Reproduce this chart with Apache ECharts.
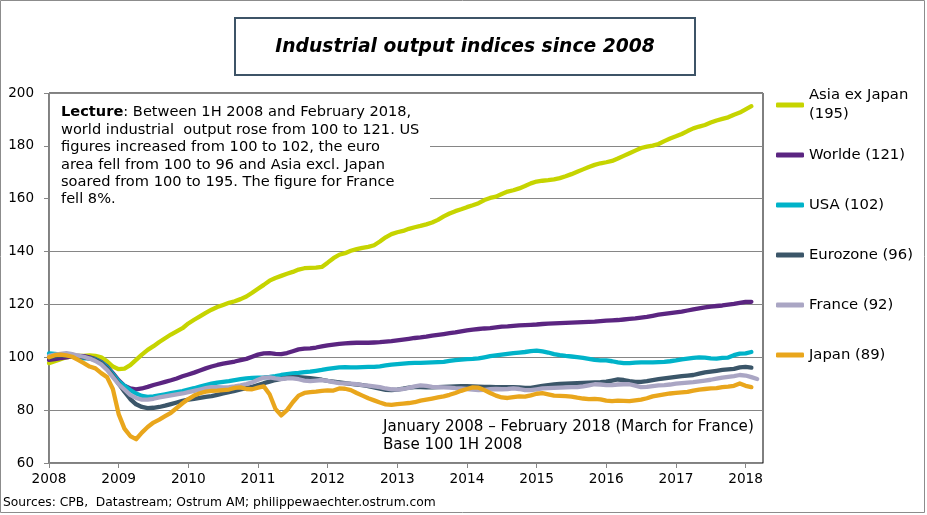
<!DOCTYPE html>
<html><head><meta charset="utf-8">
<script src="https://cdn.jsdelivr.net/npm/echarts@6/dist/echarts.min.js"></script>
<style>html,body{margin:0;padding:0;background:#fff}#c{width:927px;height:515px}</style>
</head><body><div id="c"></div>
<script>
// ---- data (monthly, Jan 2008 onwards) ----
const startYear = 2008;
const yearTicks = [2008,2009,2010,2011,2012,2013,2014,2015,2016,2017,2018];
const seriesNames = ['Asia ex Japan\n(195)','Worlde (121)','USA (102)','Eurozone (96)','France (92)','Japan (89)'];
const asia = [97.8,98.5,99.3,100,100.3,100.5,100.5,100.7,100.5,100,
  98.5,96.5,95.5,95.7,97,99,101,102.8,104.2,105.8,
  107.2,108.6,109.8,111,112.8,114.2,115.5,116.8,118,119,
  119.8,120.6,121.2,122,123,124.4,125.9,127.4,129,130,
  130.8,131.6,132.3,133.2,133.7,133.8,133.9,134.2,135.8,137.5,
  138.8,139.4,140.3,140.9,141.4,141.8,142.4,143.8,145.4,146.6,
  147.3,147.8,148.6,149.2,149.7,150.3,151,152,153.3,154.4,
  155.3,156,156.8,157.5,158.3,159.5,160.3,160.8,161.8,162.7,
  163.2,163.9,164.8,165.8,166.5,166.8,167,167.3,167.8,168.5,
  169.3,170.2,171.1,172,172.8,173.4,173.8,174.3,175.2,176.2,
  177.2,178.2,179.2,179.7,180.1,180.7,181.8,182.8,183.6,184.5,
  185.6,186.6,187.3,187.9,188.8,189.6,190.2,190.8,191.8,192.6,
  193.8,195];
const world = [99,99.3,99.7,100,100.3,100.5,100.4,100,99.3,98.2,
  96.5,94,91.3,89.2,88.2,87.9,88.2,88.8,89.5,90.1,
  90.7,91.3,92,92.8,93.5,94.2,95,95.8,96.5,97.1,
  97.6,98,98.4,98.9,99.4,100.2,101,101.5,101.6,101.3,
  101.2,101.6,102.3,103,103.3,103.4,103.7,104.1,104.5,104.8,
  105.1,105.3,105.4,105.5,105.5,105.5,105.6,105.7,105.9,106.1,
  106.4,106.7,107,107.3,107.5,107.8,108.2,108.5,108.8,109.1,
  109.4,109.8,110.2,110.5,110.7,110.9,111,111.3,111.6,111.7,
  111.9,112.1,112.2,112.3,112.4,112.6,112.7,112.8,112.9,113,
  113.1,113.2,113.3,113.4,113.5,113.7,113.9,114,114.1,114.3,
  114.5,114.7,115,115.3,115.7,116.1,116.4,116.7,117,117.3,
  117.7,118.1,118.5,118.9,119.2,119.4,119.6,119.9,120.2,120.6,
  121,121];
const usa = [101.5,101.3,101,100.7,100.4,100,99.6,99.6,99.2,98,
  96.3,93.6,91,89.2,87.6,86.3,85.4,85,85.2,85.6,
  86,86.4,86.8,87.2,87.8,88.3,88.9,89.5,90,90.4,
  90.7,91,91.4,91.7,92,92.2,92.3,92.4,92.6,92.9,
  93.3,93.6,93.9,94.1,94.4,94.6,94.9,95.2,95.6,95.9,
  96.2,96.3,96.2,96.2,96.3,96.4,96.4,96.6,96.9,97.2,
  97.4,97.6,97.8,97.9,97.9,98,98.1,98.2,98.3,98.6,
  98.9,99.1,99.3,99.4,99.6,100,100.4,100.7,101,101.3,
  101.6,101.8,102,102.3,102.5,102.2,101.8,101.2,100.8,100.5,
  100.3,100.1,99.8,99.4,99,98.8,98.8,98.5,98.1,97.8,
  97.8,98,98.1,98.1,98.1,98.2,98.3,98.5,98.8,99.2,
  99.5,99.8,100,99.9,99.6,99.5,99.8,99.9,100.8,101.4,
  101.5,102];
const eurozone = [100,100.3,100.6,100.8,100.6,100.4,100,99.6,99,97.8,
  95.8,93,90,87,84.2,82.2,81.2,80.8,80.9,81.2,
  81.7,82.3,82.9,83.5,84,84.3,84.6,85,85.3,85.8,
  86.3,86.8,87.3,87.8,88.3,88.8,89.5,90.2,90.8,91.4,
  91.8,92.2,92.5,92.5,92.3,92.1,91.8,91.5,91.1,90.8,
  90.5,90.2,89.9,89.7,89.5,89.1,88.6,88.1,87.7,87.6,
  87.8,88.1,88.5,88.7,88.7,88.6,88.6,88.7,88.8,88.9,
  89,89.1,89.1,89,88.9,88.8,88.8,88.7,88.7,88.7,
  88.7,88.6,88.4,88.4,88.8,89.2,89.5,89.7,89.9,90,
  90.1,90.2,90.3,90.4,90.5,90.6,90.8,91.2,91.6,91.4,
  91,90.7,90.7,91,91.4,91.7,92,92.3,92.6,92.9,
  93.1,93.3,93.8,94.3,94.6,94.9,95.2,95.4,95.6,96.2,
  96.4,96.1];
const france = [100.5,101,101.3,101.6,101.2,100.6,100.2,99.5,98.6,97.3,
  95.2,92.5,89.8,87.8,85.8,84.6,84,84,84.3,84.8,
  85.2,85.6,86,86.3,86.8,87.3,87.8,88.3,88.7,88.7,
  88.6,88.7,89,89.4,89.9,90.5,91.5,92.3,92.4,92,
  91.7,92,92,91.7,91.2,91,91.2,91.4,91.1,90.6,
  90.2,90.1,90,89.8,89.5,89.3,89,88.7,88.2,87.9,
  87.8,88,88.4,89,89.4,89.2,88.8,88.7,88.6,88.5,
  88.3,88.2,88,87.8,87.6,87.7,87.9,88,87.9,88,
  88.2,88,87.6,87.6,87.9,88.2,88.3,88.4,88.5,88.6,
  88.7,88.7,89,89.4,89.8,89.7,89.5,89.5,89.7,89.8,
  89.8,89.3,88.7,88.8,89.1,89.4,89.5,89.7,90,90.2,
  90.4,90.6,90.9,91.2,91.5,91.9,92.3,92.6,92.9,93.3,
  93.1,92.5,91.8];
const japan = [100,100.8,101,100.7,100.2,99,97.8,96.5,95.8,94,
  92.5,88,78.5,73,70.2,69,71.5,73.6,75.3,76.4,
  77.7,79,80.8,82.6,84.2,85.5,86.4,87,87.3,87.4,
  87.6,87.8,88.4,88.6,88,87.9,88.5,89,86,80.5,
  78,80,83,85.5,86.5,86.8,87,87.3,87.5,87.4,
  88.2,88.1,87.6,86.5,85.5,84.5,83.7,82.9,82.2,82,
  82.3,82.5,82.7,83,83.6,84,84.4,84.8,85.2,85.8,
  86.5,87.3,88,88.6,88.5,87.6,86.5,85.5,84.8,84.6,
  84.9,85.2,85.1,85.6,86.2,86.4,86,85.5,85.4,85.3,
  85.1,84.7,84.4,84.2,84.3,84.1,83.6,83.4,83.6,83.5,
  83.4,83.7,84,84.5,85.2,85.6,86,86.3,86.5,86.7,
  86.9,87.4,87.8,88,88.2,88.3,88.7,88.9,89.2,90.1,
  89.2,88.7];
const colors = ['#c6d400','#5b2581','#00b3c9','#3b5669','#aaa6c4','#e9a61c'];

const titleText = 'Industrial output indices since 2008';
const lectureLines = ['world industrial  output rose from 100 to 121. US','figures increased from 100 to 102, the euro','area fell from 100 to 96 and Asia excl. Japan','soared from 100 to 195. The figure for France','fell 8%.'];
const noteLines = ['January 2008 \u2013 February 2018 (March for France)', 'Base 100 1H 2008'];
const sourceText = 'Sources: CPB,  Datastream; Ostrum AM; philippewaechter.ostrum.com';

const allData = [asia, world, usa, eurozone, france, japan];
const toXY = arr => arr.map((v, i) => [startYear + i / 12, v]);
const FAM = '"DejaVu Sans", Verdana, sans-serif';

// font size that makes a text span a given pixel width
const mctx = document.createElement('canvas').getContext('2d');
function fitSize(text, width, weight, style) {
  mctx.font = (style || 'normal') + ' ' + (weight || 'normal') + ' 100px ' + FAM;
  return Math.round(100 * width / mctx.measureText(text).width * 10) / 10;
}
const fsTitle = Math.min(19.5, fitSize(titleText, 380, 'bold', 'italic'));
const fsLecture = Math.min(15, fitSize(lectureLines[0], 359));
const fsNote = Math.min(15.5, fitSize(noteLines[0], 372));
const fsSource = Math.min(13, fitSize(sourceText, 432));
const fsLegend = Math.min(15.5, fitSize('Eurozone (96)', 104));

const chart = echarts.init(document.getElementById('c'), null, {renderer: 'canvas'});
const series = allData.map((d, k) => ({
  name: seriesNames[k], type: 'line', data: toXY(d),
  showSymbol: false, symbol: 'none', smooth: false, z: 2 + k,
  lineStyle: {width: 4.3, color: colors[k], cap: 'round', join: 'round'},
  itemStyle: {color: colors[k]}
}));

chart.setOption({
  animation: false,
  backgroundColor: '#fff',
  color: colors,
  grid: {left: 49, right: 164, top: 93, bottom: 52, show: true, borderColor: '#000', borderWidth: 1, backgroundColor: 'transparent'},
  xAxis: {
    type: 'value', min: 2008, max: 2018.25, interval: 1,
    axisLine: {show: true, onZero: false, lineStyle: {color: '#868686', width: 1}},
    axisTick: {show: true, length: 5, customValues: yearTicks, lineStyle: {color: '#868686'}},
    axisLabel: {customValues: yearTicks, margin: 9, color: '#000', fontFamily: FAM, fontSize: 13.7, formatter: v => String(Math.round(v))},
    splitLine: {show: false}
  },
  yAxis: {
    type: 'value', min: 60, max: 200, interval: 20,
    axisLine: {show: true, lineStyle: {color: '#868686', width: 1}},
    axisTick: {show: true, length: 5, lineStyle: {color: '#868686'}},
    axisLabel: {margin: 15, color: '#000', fontFamily: FAM, fontSize: 13.5},
    splitLine: {show: true, lineStyle: {color: '#868686', width: 1}}
  },
  legend: [{
    data: [{name: seriesNames[0]}],
    orient: 'vertical', left: 776, top: 76.5, padding: 0,
    icon: 'roundRect', itemWidth: 28, itemHeight: 5, selectedMode: false,
    textStyle: {fontFamily: FAM, fontSize: fsLegend, lineHeight: 19, color: '#000', padding: [19, 0, 0, 0]}
  }, {
    data: seriesNames.slice(1).map(n => ({name: n})),
    orient: 'vertical', left: 776, top: 145.5, padding: 0, itemGap: 31,
    icon: 'roundRect', itemWidth: 28, itemHeight: 5, selectedMode: false,
    textStyle: {fontFamily: FAM, fontSize: fsLegend, lineHeight: 19, color: '#000'}
  }],
  graphic: [
    {type: 'rect', z: 1, silent: true, shape: {x: 0.5, y: 0.5, width: 924, height: 512}, style: {fill: 'none', stroke: '#8c8c8c', lineWidth: 1}},
    {type: 'rect', z: 1, silent: true, shape: {x: 235, y: 18, width: 460, height: 57}, style: {fill: '#fff', stroke: '#3d5467', lineWidth: 2}},
    {type: 'text', z: 2, silent: true, x: 465, y: 47, style: {text: titleText, fontFamily: FAM, fontSize: fsTitle, fontWeight: 'bold', fontStyle: 'italic', fill: '#000', align: 'center', verticalAlign: 'middle'}},
    {type: 'rect', z: 1, silent: true, shape: {x: 50, y: 94.5, width: 380, height: 118}, style: {fill: '#fff'}},
    {type: 'text', z: 2, silent: true, x: 61, y: 104, style: {
      text: '{b|Lecture}: Between 1H 2008 and February 2018,\n' + lectureLines.join('\n'),
      fontFamily: FAM, fontSize: fsLecture, lineHeight: 17.4, fill: '#000', align: 'left', verticalAlign: 'top',
      rich: {b: {fontFamily: FAM, fontSize: fsLecture, fontWeight: 'bold', lineHeight: 17.4, fill: '#000'}}
    }},
    {type: 'text', z: 2, silent: true, x: 383, y: 418, style: {text: noteLines.join('\n'), fontFamily: FAM, fontSize: fsNote, lineHeight: 18, fill: '#000', align: 'left', verticalAlign: 'top'}},
    {type: 'text', z: 2, silent: true, x: 3, y: 503, style: {text: sourceText, fontFamily: FAM, fontSize: fsSource, fill: '#000', align: 'left', verticalAlign: 'middle'}}
  ],
  series: series
});
</script></body></html>
